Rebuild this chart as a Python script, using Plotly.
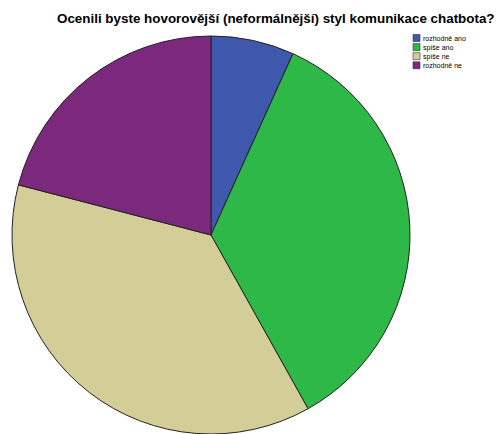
import plotly.graph_objects as go

# Survey answers and their counts
categories = ["rozhodně ano", "spíše ano", "spíše ne", "rozhodně ne"]
counts = [10, 52, 55, 31]
colors = ["#3E58AC", "#2EB848", "#D3CE97", "#7C287D"]
title_text = "Ocenili byste hovorovější (neformálnější) styl komunikace chatbota?"

W, H = 504, 434
FONT = "Arial, Liberation Sans, sans-serif"

# pie geometry in pixels (center x, center y from top, radius)
cx, cy, r = 211, 236, 200

fig = go.Figure(
    go.Pie(
        labels=categories,
        values=counts,
        marker=dict(colors=colors, line=dict(color="#222222", width=1)),
        sort=False,
        direction="clockwise",
        rotation=0,
        textinfo="none",
        hoverinfo="label+value+percent",
        showlegend=False,
        domain=dict(
            x=[(cx - r) / W, (cx + r) / W],
            y=[max(0, 1 - (cy + r) / H), 1 - (cy - r) / H],
        ),
    )
)

# compact legend in the upper-right corner: one text block plus swatches
leg_font = 7
leg_dy = 1.3 * leg_font
leg_x, leg_y0, sw = 413, 38, 7
shapes = []
for i, col in enumerate(colors):
    yc = leg_y0 + i * leg_dy
    shapes.append(dict(
        type="rect", xref="paper", yref="paper",
        x0=leg_x / W, x1=(leg_x + sw) / W,
        y0=1 - (yc + sw / 2) / H, y1=1 - (yc - sw / 2) / H,
        fillcolor=col, line=dict(color="#333333", width=0.6),
    ))

annotations = [
    dict(
        text="<br>".join(categories), xref="paper", yref="paper",
        x=(leg_x + sw + 1) / W,
        y=1 - (leg_y0 + 1.5 * leg_dy) / H,
        xanchor="left", yanchor="middle", align="left", showarrow=False,
        font=dict(family=FONT, size=leg_font, color="#000000"),
    ),
    dict(
        text="<b>" + title_text + "</b>", xref="paper", yref="paper",
        x=276 / W, y=1 - 19 / H, xanchor="center", yanchor="middle",
        showarrow=False, font=dict(family=FONT, size=13.4, color="#000000"),
    ),
]

fig.update_layout(
    width=W, height=H,
    margin=dict(l=0, r=0, t=0, b=0),
    paper_bgcolor="white", plot_bgcolor="white",
    shapes=shapes, annotations=annotations,
)

fig.write_html("out.html")
